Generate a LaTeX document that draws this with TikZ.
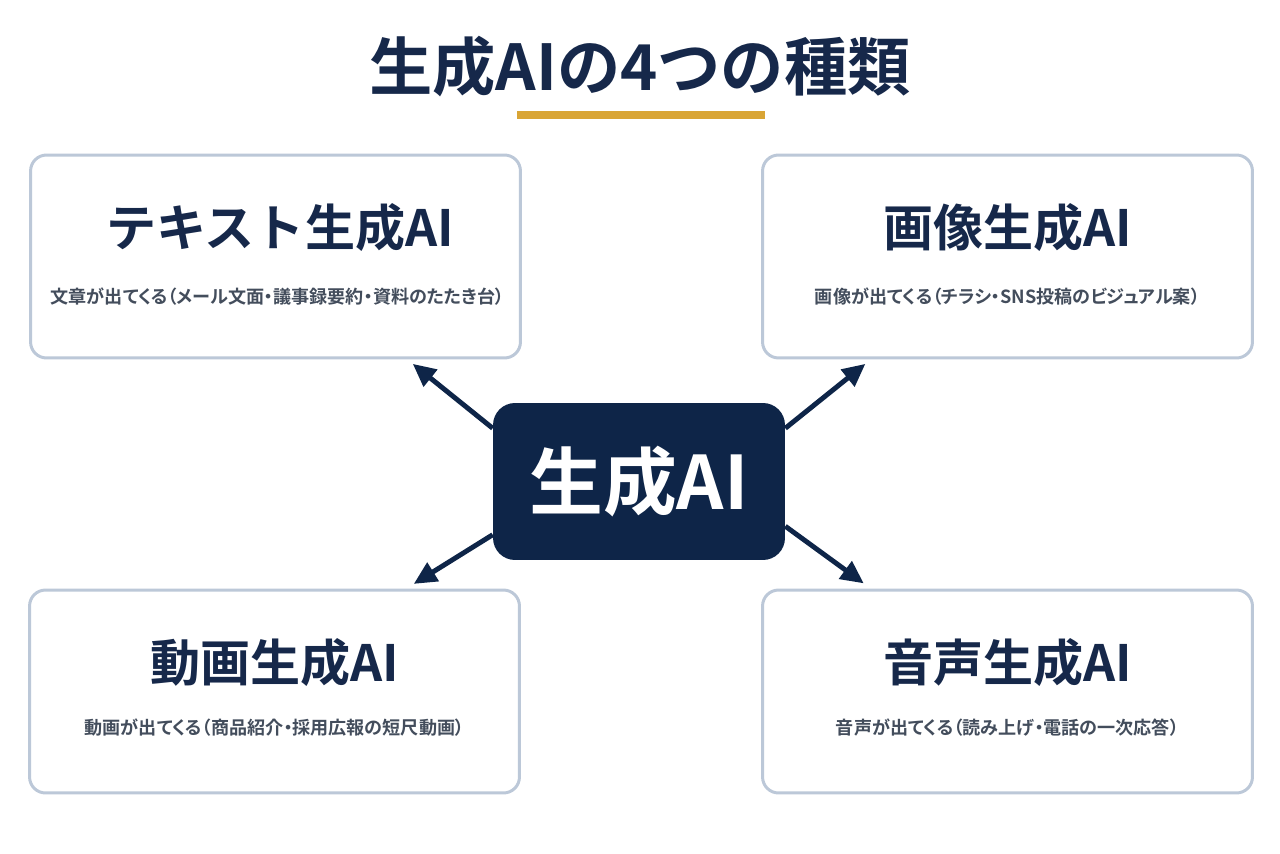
\documentclass[tikz,border=0pt]{standalone}
\usepackage{fontspec}
\setmainfont{Noto Sans CJK JP}[BoldFont={Noto Sans CJK JP Bold}]
\newfontfamily\descfont{Noto Sans CJK JP}[BoldFont={Noto Sans CJK JP Bold},RawFeature=+palt]
\usetikzlibrary{arrows.meta}
\definecolor{navy}{HTML}{0E2548}
\definecolor{inkblue}{HTML}{16284A}
\definecolor{descgray}{HTML}{434D5C}
\definecolor{edgegray}{HTML}{BCC8D8}
\definecolor{gold}{HTML}{D9A535}

\begin{document}
\begin{tikzpicture}[x=0.02cm,y=0.02cm,line cap=round,line join=round,>={Triangle[length=13pt,width=12pt]},
  kindbox/.style={draw=edgegray,line width=1.7pt,rounded corners=0.32cm,fill=white,minimum width=9.8cm,minimum height=4.06cm},
  kindtitle/.style={font=\bfseries\fontsize{28.5}{32}\selectfont,text=inkblue,inner sep=0pt},
  kinddesc/.style={font=\descfont\bfseries\fontsize{10.3}{12}\selectfont,text=descgray,inner sep=0pt},
  corebox/.style={fill=navy,rounded corners=0.44cm,minimum width=5.84cm,minimum height=3.14cm,text=white,font=\bfseries\fontsize{42}{46}\selectfont},
  link/.style={->,draw=navy,line width=2.8pt,line cap=butt}]
  \useasboundingbox[fill=white] (0,0) rectangle (1280,853);
  \node[font=\bfseries\fontsize{36}{40}\selectfont,text=inkblue] (title) at (640,786) {生成AIの4つの種類};
  \draw[gold,line width=0.16cm,line cap=butt] (517,738) -- (765,738);

  \node[kindbox] (text) at (275.5,596.5) {};
  \node[kindbox] (image) at (1007.5,596.5) {};
  \node[kindbox] (video) at (274.5,161.5) {};
  \node[kindbox] (voice) at (1007.5,161.5) {};

  \node[kindtitle] (textt) at (280,625) {テキスト生成AI};
  \node[kinddesc] (textd) at (277.5,556) {文章が出てくる（メール文面・議事録要約・資料のたたき台）};
  \node[kindtitle] (imaget) at (1007.5,625) {画像生成AI};
  \node[kinddesc] (imaged) at (1007.5,556) {画像が出てくる（チラシ・SNS投稿のビジュアル案）};
  \node[kindtitle] (videot) at (274.5,190) {動画生成AI};
  \node[kinddesc] (videod) at (274.5,125) {動画が出てくる（商品紹介・採用広報の短尺動画）};
  \node[kindtitle] (voicet) at (1007.5,190) {音声生成AI};
  \node[kinddesc] (voiced) at (1007.5,125) {音声が出てくる（読み上げ・電話の一次応答）};

  \node[corebox] (core) at (639,371.5) {生成AI};

  \draw[link,shorten >=4pt] (core.160) -- (text.322);
  \draw[link,shorten >=4pt] (core.20) -- (image.217);
  \draw[link,shorten >=5pt] (core.200) -- (video.38);
  \draw[link,shorten >=5pt] (core.343) -- (voice.143);
\end{tikzpicture}
\end{document}
